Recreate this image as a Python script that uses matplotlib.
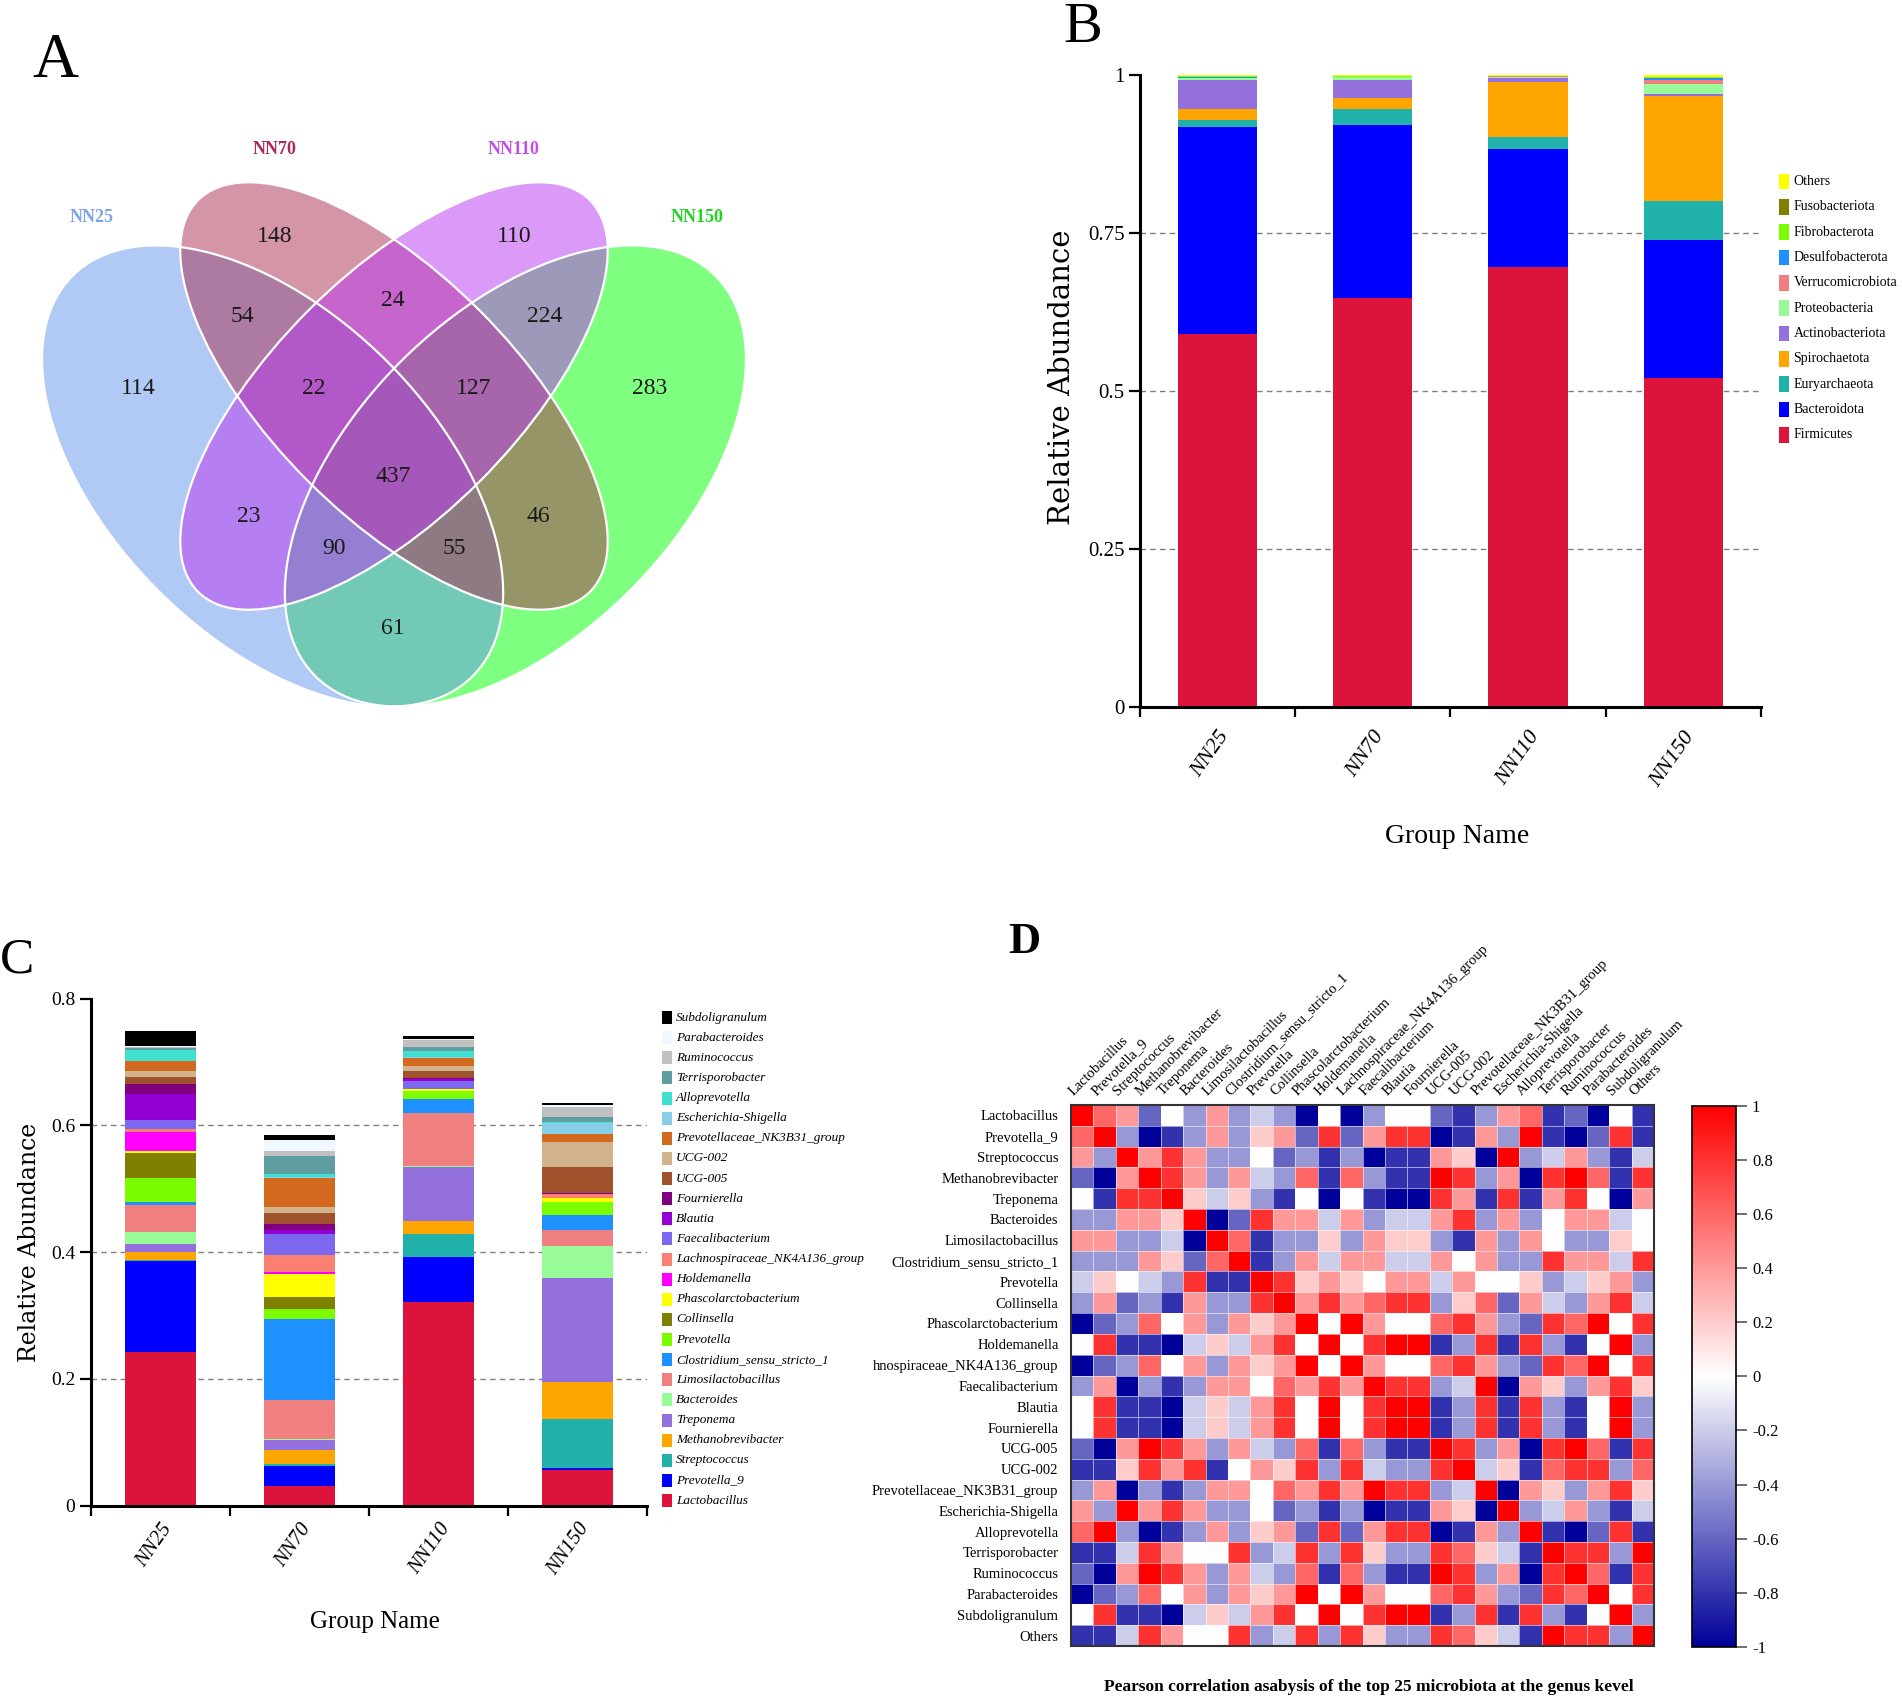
import numpy as np
import matplotlib
matplotlib.use('Agg')
import matplotlib.pyplot as plt
from matplotlib.patches import Ellipse, Rectangle
from matplotlib.colors import LinearSegmentedColormap

plt.rcParams['font.family'] = ['Liberation Serif', 'DejaVu Serif']

W, H = 1902, 1704

# ---------------- DATA ----------------
groups = ['NN25', 'NN70', 'NN110', 'NN150']

# Panel A (Venn)
venn_sets = ['NN25', 'NN70', 'NN110', 'NN150']
venn_set_colors = ['#6495ED', '#AB2D51', '#B937F1', '#00FF00']
venn_label_colors = ['#7DA4E4', '#A8285A', '#C34FE6', '#22D322']
venn_regions = ['NN25', 'NN70', 'NN110', 'NN150',
                'NN25&NN70', 'NN70&NN110', 'NN110&NN150',
                'NN25&NN70&NN110', 'NN70&NN110&NN150', 'ALL',
                'NN25&NN110', 'NN70&NN150',
                'NN25&NN110&NN150', 'NN25&NN70&NN150', 'NN25&NN150']
venn_counts = [114, 148, 110, 283, 54, 24, 224, 22, 127, 437, 23, 46, 90, 55, 61]

# Panel B (phylum level)
phyla = ['Firmicutes', 'Bacteroidota', 'Euryarchaeota', 'Spirochaetota',
         'Actinobacteriota', 'Proteobacteria', 'Verrucomicrobiota',
         'Desulfobacterota', 'Fibrobacterota', 'Fusobacteriota', 'Others']
phylum_colors = ['#DC143C', '#0000FF', '#20B2AA', '#FFA500', '#9370DB',
                 '#98FB98', '#F08080', '#1E90FF', '#7CFC00', '#808000', '#FFFF00']
phylum_NN25 = [0.590, 0.328, 0.011, 0.016, 0.046, 0.003, 0.001, 0.002, 0.0005, 0.0005, 0.0025]
phylum_NN70 = [0.647, 0.273, 0.025, 0.018, 0.029, 0.004, 0.0005, 0.0005, 0.0003, 0.0003, 0.0025]
phylum_NN110 = [0.696, 0.187, 0.019, 0.087, 0.005, 0.003, 0.0005, 0.0005, 0.0003, 0.0003, 0.0015]
phylum_NN150 = [0.521, 0.218, 0.061, 0.166, 0.004, 0.016, 0.006, 0.003, 0.0008, 0.0007, 0.003]

# Panel C (genus level)
genera = ['Lactobacillus', 'Prevotella_9', 'Streptococcus', 'Methanobrevibacter',
          'Treponema', 'Bacteroides', 'Limosilactobacillus',
          'Clostridium_sensu_stricto_1', 'Prevotella', 'Collinsella',
          'Phascolarctobacterium', 'Holdemanella', 'Lachnospiraceae_NK4A136_group',
          'Faecalibacterium', 'Blautia', 'Fournierella', 'UCG-005', 'UCG-002',
          'Prevotellaceae_NK3B31_group', 'Escherichia-Shigella', 'Alloprevotella',
          'Terrisporobacter', 'Ruminococcus', 'Parabacteroides', 'Subdoligranulum']
genus_colors = ['#DC143C', '#0000FF', '#20B2AA', '#FFA500', '#9370DB', '#98FB98',
                '#F08080', '#1E90FF', '#7CFC00', '#808000', '#FFFF00', '#FF00FF',
                '#FA8072', '#7B68EE', '#9400D3', '#800080', '#A0522D', '#D2B48C',
                '#D2691E', '#87CEEB', '#40E0D0', '#5F9EA0', '#C0C0C0', '#F0F8FF', '#000000']
genus_NN25 = [0.243, 0.143, 0.002, 0.012, 0.013, 0.019, 0.042, 0.005, 0.038, 0.039,
              0.004, 0.030, 0.004, 0.015, 0.041, 0.015, 0.011, 0.009, 0.016, 0.001,
              0.017, 0.003, 0.002, 0.002, 0.023]
genus_NN70 = [0.031, 0.032, 0.002, 0.023, 0.016, 0.002, 0.060, 0.129, 0.016, 0.019,
              0.036, 0.002, 0.028, 0.033, 0.006, 0.010, 0.016, 0.011, 0.045, 0.001,
              0.005, 0.028, 0.008, 0.018, 0.008]
genus_NN110 = [0.321, 0.072, 0.036, 0.020, 0.0856, 0.001, 0.0835, 0.0231, 0.0113, 0.0005,
               0.0028, 0.0005, 0.0005, 0.0124, 0.0028, 0.0017, 0.0113, 0.0073, 0.013, 0.001,
               0.0096, 0.0073, 0.010, 0.002, 0.0045]
genus_NN150 = [0.056, 0.003, 0.078, 0.058, 0.165, 0.049, 0.0254, 0.0242, 0.0208, 0.0005,
               0.0056, 0.0005, 0.005, 0.0005, 0.0005, 0.0017, 0.0411, 0.0389, 0.0124, 0.0175,
               0.0023, 0.0073, 0.0152, 0.0034, 0.0039]

# Panel D (Pearson correlation, top 25 genera + Others)
corr_genera = ['Lactobacillus', 'Prevotella_9', 'Streptococcus', 'Methanobrevibacter',
               'Treponema', 'Bacteroides', 'Limosilactobacillus',
               'Clostridium_sensu_stricto_1', 'Prevotella', 'Collinsella',
               'Phascolarctobacterium', 'Holdemanella', 'Lachnospiraceae_NK4A136_group',
               'Faecalibacterium', 'Blautia', 'Fournierella', 'UCG-005', 'UCG-002',
               'Prevotellaceae_NK3B31_group', 'Escherichia-Shigella', 'Alloprevotella',
               'Terrisporobacter', 'Ruminococcus', 'Parabacteroides', 'Subdoligranulum',
               'Others']
corr_row_labels = corr_genera[:12] + ['hnospiraceae_NK4A136_group'] + corr_genera[13:]
corr = [
    [1, .6, .4, -.6, 0, -.4, .4, -.4, -.2, -.4, -1, 0, -1, -.4, 0, 0, -.6, -.8, -.4, .4, .6, -.8, -.6, -1, 0, -.8],
    [.6, 1, -.4, -1, -.8, -.4, .4, -.4, .2, .4, -.6, .8, -.6, .4, .8, .8, -1, -.8, .4, -.4, 1, -.8, -1, -.6, .8, -.8],
    [.4, -.4, 1, .4, .8, .4, -.4, -.4, 0, -.6, -.4, -.8, -.4, -1, -.8, -.8, .4, .2, -1, 1, -.4, -.2, .4, -.4, -.8, -.2],
    [-.6, -1, .4, 1, .8, .4, -.4, .4, -.2, -.4, .6, -.8, .6, -.4, -.8, -.8, 1, .8, -.4, .4, -1, .8, 1, .6, -.8, .8],
    [0, -.8, .8, .8, 1, .2, -.2, .2, -.4, -.8, 0, -1, 0, -.8, -1, -1, .8, .4, -.8, .8, -.8, .4, .8, 0, -1, .4],
    [-.4, -.4, .4, .4, .2, 1, -1, -.6, .8, .4, .4, -.2, .4, -.4, -.2, -.2, .4, .8, -.4, .4, -.4, 0, .4, .4, -.2, 0],
    [.4, .4, -.4, -.4, -.2, -1, 1, .6, -.8, -.4, -.4, .2, -.4, .4, .2, .2, -.4, -.8, .4, -.4, .4, 0, -.4, -.4, .2, 0],
    [-.4, -.4, -.4, .4, .2, -.6, .6, 1, -.8, -.4, .4, -.2, .4, .4, -.2, -.2, .4, 0, .4, -.4, -.4, .8, .4, .4, -.2, .8],
    [-.2, .2, 0, -.2, -.4, .8, -.8, -.8, 1, .8, .2, .4, .2, 0, .4, .4, -.2, .4, 0, 0, .2, -.4, -.2, .2, .4, -.4],
    [-.4, .4, -.6, -.4, -.8, .4, -.4, -.4, .8, 1, .4, .8, .4, .6, .8, .8, -.4, .2, .6, -.6, .4, -.2, -.4, .4, .8, -.2],
    [-1, -.6, -.4, .6, 0, .4, -.4, .4, .2, .4, 1, 0, 1, .4, 0, 0, .6, .8, .4, -.4, -.6, .8, .6, 1, 0, .8],
    [0, .8, -.8, -.8, -1, -.2, .2, -.2, .4, .8, 0, 1, 0, .8, 1, 1, -.8, -.4, .8, -.8, .8, -.4, -.8, 0, 1, -.4],
    [-1, -.6, -.4, .6, 0, .4, -.4, .4, .2, .4, 1, 0, 1, .4, 0, 0, .6, .8, .4, -.4, -.6, .8, .6, 1, 0, .8],
    [-.4, .4, -1, -.4, -.8, -.4, .4, .4, 0, .6, .4, .8, .4, 1, .8, .8, -.4, -.2, 1, -1, .4, .2, -.4, .4, .8, .2],
    [0, .8, -.8, -.8, -1, -.2, .2, -.2, .4, .8, 0, 1, 0, .8, 1, 1, -.8, -.4, .8, -.8, .8, -.4, -.8, 0, 1, -.4],
    [0, .8, -.8, -.8, -1, -.2, .2, -.2, .4, .8, 0, 1, 0, .8, 1, 1, -.8, -.4, .8, -.8, .8, -.4, -.8, 0, 1, -.4],
    [-.6, -1, .4, 1, .8, .4, -.4, .4, -.2, -.4, .6, -.8, .6, -.4, -.8, -.8, 1, .8, -.4, .4, -1, .8, 1, .6, -.8, .8],
    [-.8, -.8, .2, .8, .4, .8, -.8, 0, .4, .2, .8, -.4, .8, -.2, -.4, -.4, .8, 1, -.2, .2, -.8, .6, .8, .8, -.4, .6],
    [-.4, .4, -1, -.4, -.8, -.4, .4, .4, 0, .6, .4, .8, .4, 1, .8, .8, -.4, -.2, 1, -1, .4, .2, -.4, .4, .8, .2],
    [.4, -.4, 1, .4, .8, .4, -.4, -.4, 0, -.6, -.4, -.8, -.4, -1, -.8, -.8, .4, .2, -1, 1, -.4, -.2, .4, -.4, -.8, -.2],
    [.6, 1, -.4, -1, -.8, -.4, .4, -.4, .2, .4, -.6, .8, -.6, .4, .8, .8, -1, -.8, .4, -.4, 1, -.8, -1, -.6, .8, -.8],
    [-.8, -.8, -.2, .8, .4, 0, 0, .8, -.4, -.2, .8, -.4, .8, .2, -.4, -.4, .8, .6, .2, -.2, -.8, 1, .8, .8, -.4, 1],
    [-.6, -1, .4, 1, .8, .4, -.4, .4, -.2, -.4, .6, -.8, .6, -.4, -.8, -.8, 1, .8, -.4, .4, -1, .8, 1, .6, -.8, .8],
    [-1, -.6, -.4, .6, 0, .4, -.4, .4, .2, .4, 1, 0, 1, .4, 0, 0, .6, .8, .4, -.4, -.6, .8, .6, 1, 0, .8],
    [0, .8, -.8, -.8, -1, -.2, .2, -.2, .4, .8, 0, 1, 0, .8, 1, 1, -.8, -.4, .8, -.8, .8, -.4, -.8, 0, 1, -.4],
    [-.8, -.8, -.2, .8, .4, 0, 0, .8, -.4, -.2, .8, -.4, .8, .2, -.4, -.4, .8, .6, .2, -.2, -.8, 1, .8, .8, -.4, 1],
]
cb_ticks = [1, 0.8, 0.6, 0.4, 0.2, 0, -0.2, -0.4, -0.6, -0.8, -1]
cb_tick_labels = ['1', '0.8', '0.6', '0.4', '0.2', '0', '-0.2', '-0.4', '-0.6', '-0.8', '-1']

# ---------------- LAYOUT HELPERS ----------------
def fx(x):
    return x / W

def fy(y):
    return 1 - y / H

fig = plt.figure(figsize=(W / 100, H / 100), dpi=100)

# ---------------- PANEL A : Venn ----------------
axA = fig.add_axes([0, fy(760), 760 / W, 760 / H])
axA.set_xlim(0, 760)
axA.set_ylim(760, 0)
axA.axis('off')
# (centre, angle, semi-major, semi-minor) in pixel layout units
ell_geom = {'NN25': ((272.6, 476), 45, 283, 162), 'NN70': ((394, 396), 45, 277, 121),
            'NN110': ((394, 396), -45, 277, 121), 'NN150': ((515.4, 476), -45, 283, 162)}
draw_order = ['NN150', 'NN25', 'NN70', 'NN110']
for s in draw_order:
    i = venn_sets.index(s)
    (cx, cy), ang, sa, sb = ell_geom[s]
    axA.add_patch(Ellipse((cx, cy), 2 * sa, 2 * sb, angle=ang,
                          facecolor=venn_set_colors[i], alpha=0.5, edgecolor='none'))
for s in draw_order:
    (cx, cy), ang, sa, sb = ell_geom[s]
    axA.add_patch(Ellipse((cx, cy), 2 * sa, 2 * sb, angle=ang,
                          facecolor='none', edgecolor='white', lw=1.6))
venn_count_pos = [(138, 389), (275, 236), (514, 236), (650, 389),
                  (242, 317), (393, 301), (545, 317),
                  (314, 389), (474, 389), (393, 477),
                  (249, 517), (538, 517), (334, 548), (454, 548), (393, 629)]
for cnt, (x, y) in zip(venn_counts, venn_count_pos):
    axA.text(x, y, str(cnt), ha='center', va='center', fontsize=17, color='#1a1a1a')
venn_label_pos = [(92, 218), (275, 149), (514, 149), (697, 218)]
for s, (x, y), c in zip(venn_sets, venn_label_pos, venn_label_colors):
    axA.text(x, y, s, ha='center', va='center', fontsize=13, fontweight='bold', color=c)

# ---------------- common stacked bar helper ----------------
def stacked(ax, table, colors, ylim, yticks, yticklabels, grid, xt_pad, xt_size, yt_size):
    data = np.array(table).T  # taxa x groups
    x = np.arange(len(groups))
    bottom = np.zeros(len(groups))
    for vals, col in zip(data, colors):
        ax.bar(x, vals, 0.51, bottom=bottom, color=col, linewidth=0, zorder=2)
        bottom += vals
    for g in grid:
        ax.axhline(g, color='#808080', ls=(0, (4, 3)), lw=1.0, zorder=1)
    ax.set_xlim(-0.5, len(groups) - 0.5)
    ax.set_ylim(*ylim)
    ax.set_yticks(yticks)
    ax.set_yticklabels(yticklabels, fontsize=yt_size)
    ax.set_xticks(x)
    ax.set_xticklabels(groups, rotation=55, ha='right', va='top', rotation_mode='anchor',
                       fontstyle='italic', fontsize=xt_size)
    ax.set_xticks(np.arange(len(groups) + 1) - 0.5, minor=True)
    ax.tick_params(axis='x', which='major', length=0, pad=xt_pad)
    ax.tick_params(axis='x', which='minor', length=7, width=1.6)
    ax.tick_params(axis='y', length=8, width=1.6, pad=3)
    for sp in ['top', 'right']:
        ax.spines[sp].set_visible(False)
    for sp in ['left', 'bottom']:
        ax.spines[sp].set_linewidth(2.2)

# ---------------- PANEL B ----------------
axB = fig.add_axes([fx(1139.7), fy(707), (1761 - 1139.7) / W, (707 - 74.7) / H])
stacked(axB, [phylum_NN25, phylum_NN70, phylum_NN110, phylum_NN150], phylum_colors,
        (0, 1), [0, 0.25, 0.5, 0.75, 1], ['0', '0.25', '0.5', '0.75', '1'],
        [0.25, 0.5, 0.75], 15, 16, 15)
for i, (name, col) in enumerate(reversed(list(zip(phyla, phylum_colors)))):
    yc = 181.4 + i * 25.36
    fig.patches.append(Rectangle((fx(1779), fy(yc + 7.8)), 10 / W, 15.6 / H,
                                 transform=fig.transFigure, facecolor=col, edgecolor='none'))
    fig.text(fx(1793.5), fy(yc), name, ha='left', va='center', fontsize=10)
fig.text(fx(1062), fy(377), 'Relative Abundance', rotation=90, ha='center', va='center',
         fontsize=21, family='DejaVu Serif')
fig.text(fx(1457), fy(837), 'Group Name', ha='center', va='center', fontsize=20)

# ---------------- PANEL C ----------------
axC = fig.add_axes([fx(90.6), fy(1505.7), (647 - 90.6) / W, (1505.7 - 998.6) / H])
stacked(axC, [genus_NN25, genus_NN70, genus_NN110, genus_NN150], genus_colors,
        (0, 0.8), [0, 0.2, 0.4, 0.6, 0.8], ['0', '0.2', '0.4', '0.6', '0.8'],
        [0.2, 0.4, 0.6], 10, 15, 14)
for i, (name, col) in enumerate(reversed(list(zip(genera, genus_colors)))):
    yc = 1017.5 + i * 20.13
    fig.patches.append(Rectangle((fx(662), fy(yc + 6.5)), 10 / W, 13 / H,
                                 transform=fig.transFigure, facecolor=col, edgecolor='none'))
    fig.text(fx(676), fy(yc), name, ha='left', va='center', fontsize=9.5, fontstyle='italic')
fig.text(fx(30), fy(1242), 'Relative Abundance', rotation=90, ha='center', va='center',
         fontsize=17, family='DejaVu Serif')
fig.text(fx(375), fy(1622), 'Group Name', ha='center', va='center', fontsize=18)

# ---------------- PANEL D ----------------
axD = fig.add_axes([fx(1071), fy(1646), 583 / W, 541 / H])
cmap = LinearSegmentedColormap.from_list('corr', ['#00009A', '#FFFFFF', '#FF0000'])
C = np.array(corr, dtype=float)
n = len(corr_genera)
mesh = axD.pcolormesh(np.arange(n + 1) - 0.5, np.arange(n + 1) - 0.5, C, cmap=cmap,
                      vmin=-1, vmax=1, edgecolors=(1, 1, 1, 0.55), linewidth=0.6)
axD.set_xlim(-0.5, n - 0.5)
axD.set_ylim(n - 0.5, -0.5)
axD.set_yticks(range(n))
axD.set_yticklabels(corr_row_labels, fontsize=10.5)
axD.tick_params(axis='y', length=0, pad=9)
axD.set_xticks([])
for j, lab in enumerate(corr_genera):
    axD.text(j - 0.3, -0.85, lab, rotation=45, rotation_mode='anchor', ha='left',
             va='bottom', fontsize=10.5)
for sp in axD.spines.values():
    sp.set_linewidth(1.5)
    sp.set_color('#333333')

cax = fig.add_axes([fx(1692), fy(1647), 44 / W, (1647 - 1105.6) / H])
cb = fig.colorbar(mesh, cax=cax, ticks=cb_ticks)
cb.ax.set_yticklabels(cb_tick_labels)
cb.ax.tick_params(length=8, width=1.2, labelsize=12, direction='out', color='#555555')
cb.outline.set_linewidth(1.2)

fig.text(fx(1369), fy(1687),
         'Pearson correlation asabysis of the top 25 microbiota at the genus kevel',
         ha='center', va='center', fontsize=12.5, fontweight='bold')

# ---------------- panel letters ----------------
fig.text(fx(55), fy(62), 'A', ha='center', va='center', fontsize=46)
fig.text(fx(1083), fy(28), 'B', ha='center', va='center', fontsize=42)
fig.text(fx(17), fy(960), 'C', ha='center', va='center', fontsize=37)
fig.text(fx(1024), fy(942), 'D', ha='center', va='center', fontsize=32, fontweight='bold')

fig.savefig('out.png', dpi=100)
